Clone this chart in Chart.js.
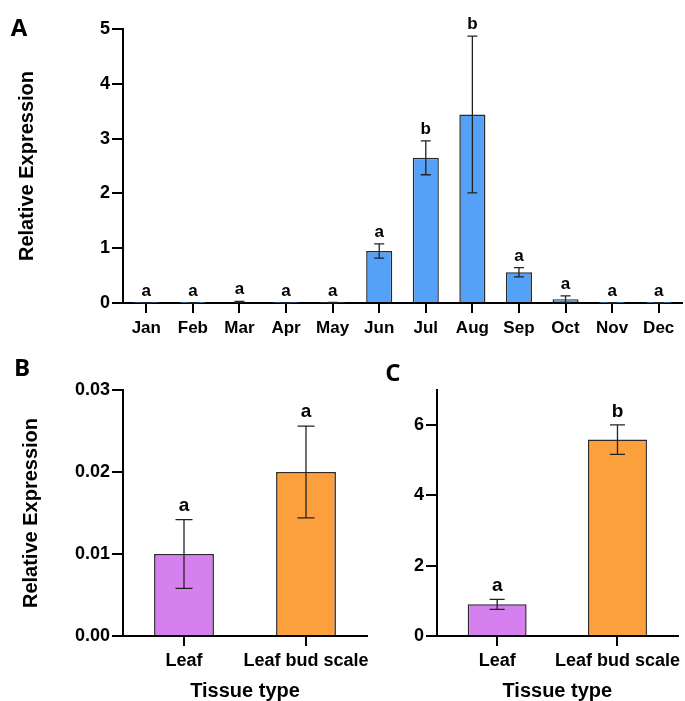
<!DOCTYPE html>
<html>
<head>
<meta charset="utf-8">
<script src="https://cdn.jsdelivr.net/npm/chart.js@4.4.0/dist/chart.umd.min.js"></script>
<style>
  body { margin: 0; background: #fff; }
  #wrap { position: relative; width: 685px; height: 701px; overflow: hidden; }
  canvas { position: absolute; }
  .panel {
    position: absolute;
    font-family: 'Open Sans', sans-serif;
    font-weight: 700;
    font-size: 24px;
    line-height: 1;
    transform: translate(-50%, -50%);
  }
</style>
</head>
<body>
<div id="wrap">
  <canvas id="chartA" width="685" height="340" style="left:0;top:0"></canvas>
  <canvas id="chartB" width="375" height="361" style="left:0;top:340px"></canvas>
  <canvas id="chartC" width="310" height="361" style="left:375px;top:340px"></canvas>
  <div class="panel" style="left:19px;top:27px">A</div>
  <div class="panel" style="left:22px;top:367px">B</div>
  <div class="panel" style="left:393px;top:372px">C</div>
</div>
<script>
// panel A - monthly expression
const months = ['Jan', 'Feb', 'Mar', 'Apr', 'May', 'Jun', 'Jul', 'Aug', 'Sep', 'Oct', 'Nov', 'Dec'];
const monthMeans = [0.003, 0.002, 0.02, 0.004, 0.005, 0.95, 2.65, 3.44, 0.56, 0.07, 0.002, 0.002];
const monthErrors = [0.004, 0.003, 0.01, 0.004, 0.004, 0.13, 0.31, 1.43, 0.085, 0.06, 0.003, 0.003];
const monthLetters = ['a', 'a', 'a', 'a', 'a', 'a', 'b', 'b', 'a', 'a', 'a', 'a'];

// panels B and C - tissue types
const tissues = ['Leaf', 'Leaf bud scale'];
const tissueMeansB = [0.01, 0.02];
const tissueErrorsB = [0.0042, 0.0056];
const tissueLettersB = ['a', 'a'];
const tissueMeansC = [0.9, 5.59];
const tissueErrorsC = [0.14, 0.42];
const tissueLettersC = ['a', 'b'];

const blue = '#55a1f7';
const purple = '#d680ef';
const orange = '#fca03e';

Chart.defaults.font.family = "'Liberation Sans', Arial, sans-serif";
Chart.defaults.font.weight = 'bold';
Chart.defaults.color = '#000';

// draws the error bars and the significance letters above them
const errorBars = {
  id: 'errorBars',
  afterDatasetsDraw(chart, args, opts) {
    const { ctx } = chart;
    const x = chart.scales.x;
    const y = chart.scales.y;
    const values = chart.data.datasets[0].data;
    ctx.save();
    ctx.strokeStyle = '#222';
    ctx.lineWidth = 1.3;
    ctx.fillStyle = '#000';
    ctx.font = `bold ${opts.letterSize}px 'Liberation Sans', Arial, sans-serif`;
    ctx.textAlign = 'center';
    ctx.textBaseline = 'alphabetic';
    values.forEach((v, i) => {
      const err = opts.errors[i];
      const cx = x.getPixelForValue(i);
      const top = y.getPixelForValue(v + err);
      const bottom = y.getPixelForValue(Math.max(v - err, 0));
      const half = opts.capWidth / 2;
      ctx.beginPath();
      ctx.moveTo(cx, top);
      ctx.lineTo(cx, bottom);
      ctx.moveTo(cx - half, top);
      ctx.lineTo(cx + half, top);
      ctx.moveTo(cx - half, bottom);
      ctx.lineTo(cx + half, bottom);
      ctx.stroke();
      ctx.fillText(opts.letters[i], cx, top - opts.letterGap);
    });
    ctx.restore();
  }
};

function axisX(tickSize, titleText) {
  return {
    offset: true,
    grid: {
      display: true,
      drawOnChartArea: false,
      offset: false,
      color: '#000',
      lineWidth: 2,
      tickLength: 10
    },
    border: { display: true, color: '#000', width: 2 },
    ticks: { font: { size: tickSize, weight: 'bold' }, padding: tickSize === 17 ? 5 : 4, maxRotation: 0, autoSkip: false },
    title: {
      display: !!titleText,
      text: titleText,
      font: { size: 20, weight: 'bold', lineHeight: 1 },
      padding: { top: 0, bottom: 0 }
    }
  };
}

function axisY(max, step, titleText, titlePad, fmt, bounds) {
  return {
    min: 0,
    max: max,
    grid: {
      display: true,
      drawOnChartArea: false,
      color: '#000',
      lineWidth: 2,
      tickLength: 11
    },
    border: { display: true, color: '#000', width: 2 },
    ticks: {
      stepSize: step,
      includeBounds: bounds,
      font: { size: 18, weight: 'bold' },
      padding: 2,
      callback: fmt
    },
    title: {
      display: !!titleText,
      text: titleText,
      font: { size: 20, weight: 'bold', lineHeight: 1 },
      padding: { top: titlePad, bottom: 0 }
    }
  };
}

// Panel A
const cfgA = {
  type: 'bar',
  data: {
    labels: months,
    datasets: [{
      data: monthMeans,
      backgroundColor: blue,
      borderColor: '#2a2a2a',
      borderWidth: 1.5,
      categoryPercentage: 1,
      barPercentage: 0.56
    }]
  },
  options: {
    responsive: false,
    animation: false,
    devicePixelRatio: 1,
    layout: { padding: { top: 29, right: 3, left: 0, bottom: 0 } },
    plugins: {
      legend: { display: false },
      tooltip: { enabled: false },
      errorBars: { errors: monthErrors, letters: monthLetters, capWidth: 10, letterSize: 17, letterGap: 7 }
    },
    scales: {
      x: Object.assign(axisX(17, ''), { afterFit: s => { s.height = 37; } }),
      y: Object.assign(axisY(5, 1, 'Relative Expression', 17, v => v, true), { afterFit: s => { s.width = 123; } })
    }
  },
  plugins: [errorBars]
};
new Chart(document.getElementById('chartA'), cfgA);

// Panel B
const cfgB = {
  type: 'bar',
  data: {
    labels: tissues,
    datasets: [{
      data: tissueMeansB,
      backgroundColor: [purple, orange],
      borderColor: '#2a2a2a',
      borderWidth: 1.5,
      categoryPercentage: 1,
      barPercentage: 0.49
    }]
  },
  options: {
    responsive: false,
    animation: false,
    devicePixelRatio: 1,
    layout: { padding: { top: 50, right: 8, left: 0, bottom: 0 } },
    plugins: {
      legend: { display: false },
      tooltip: { enabled: false },
      errorBars: { errors: tissueErrorsB, letters: tissueLettersB, capWidth: 17, letterSize: 19, letterGap: 9 }
    },
    scales: {
      x: Object.assign(axisX(18, 'Tissue type'), { afterFit: s => { s.height = 65; } }),
      y: Object.assign(axisY(0.03, 0.01, 'Relative Expression', 21, v => Number(v).toFixed(2), true), { afterFit: s => { s.width = 123; } })
    }
  },
  plugins: [errorBars]
};
new Chart(document.getElementById('chartB'), cfgB);

// Panel C
const cfgC = {
  type: 'bar',
  data: {
    labels: tissues,
    datasets: [{
      data: tissueMeansC,
      backgroundColor: [purple, orange],
      borderColor: '#2a2a2a',
      borderWidth: 1.5,
      categoryPercentage: 1,
      barPercentage: 0.49
    }]
  },
  options: {
    responsive: false,
    animation: false,
    devicePixelRatio: 1,
    layout: { padding: { top: 50, right: 4, left: 0, bottom: 0 } },
    plugins: {
      legend: { display: false },
      tooltip: { enabled: false },
      errorBars: { errors: tissueErrorsC, letters: tissueLettersC, capWidth: 15, letterSize: 19, letterGap: 8 }
    },
    scales: {
      x: Object.assign(axisX(18, 'Tissue type'), { afterFit: s => { s.height = 65; } }),
      y: Object.assign(axisY(7, 2, '', 0, v => v, false), { afterFit: s => { s.width = 62; } })
    }
  },
  plugins: [errorBars]
};
new Chart(document.getElementById('chartC'), cfgC);
</script>
</body>
</html>
